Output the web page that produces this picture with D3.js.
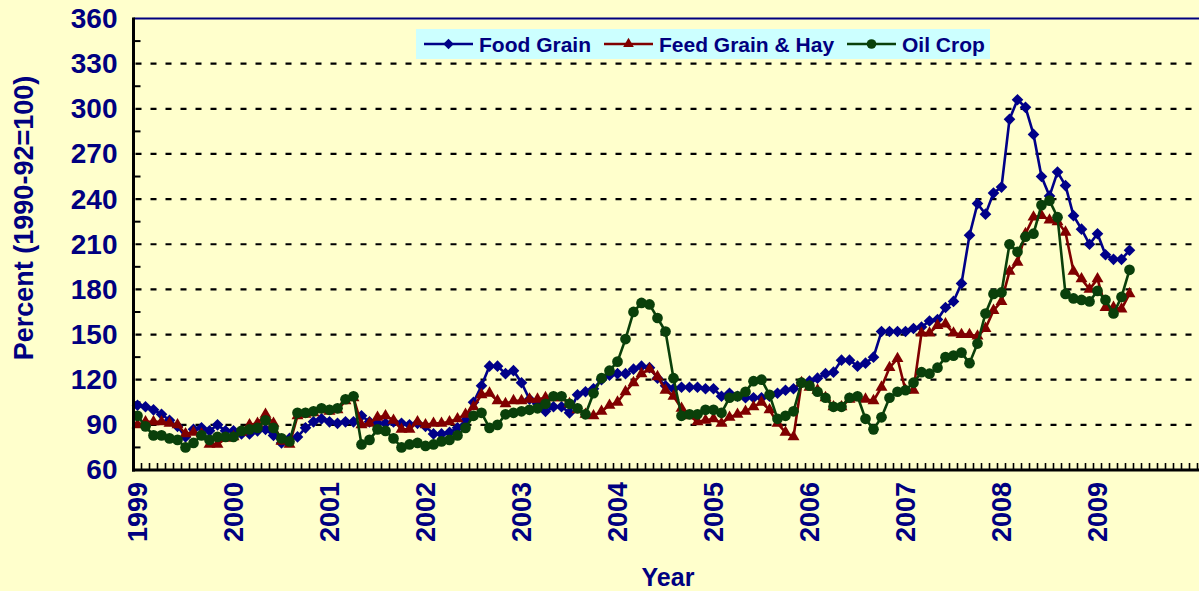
<!DOCTYPE html>
<html>
<head>
<meta charset="utf-8">
<script src="https://cdn.jsdelivr.net/npm/d3@7"></script>
<style>
  body { margin: 0; background: #FFFFCC; }
  svg { display: block; font-family: "Liberation Sans", Arial, sans-serif; font-weight: bold; }
</style>
</head>
<body>
<svg id="chart"></svg>
<script>
const years = ['1999', '2000', '2001', '2002', '2003', '2004', '2005', '2006', '2007', '2008', '2009'];
// the original axis runs on a little past Dec 2009, beyond the picture edge
const extraMonths = ['2010-1', '2010-2'];
const yTicks = [60, 90, 120, 150, 180, 210, 240, 270, 300, 330, 360];

// monthly index values, Jan 1999 - May 2009
const foodGrain = [
    103, 102, 100, 97, 93, 89, 82, 87, 88, 86, 90, 86,
    86, 84, 84, 86, 87, 83, 78, 81, 82, 88, 92, 94,
    92, 91, 92, 92, 96, 92, 91, 91, 92, 91, 90, 91,
    89, 84, 84, 85, 88, 93, 105, 116, 129, 129, 124, 126,
    118, 107, 104, 99, 102, 102, 98, 110, 112, 114, 120, 123,
    124, 124, 127, 129, 128, 121, 116, 114, 115, 115, 115, 114,
    114, 109, 111, 109, 108, 108, 108, 109, 111, 113, 114, 118,
    119, 121, 124, 125, 133, 133, 129, 131, 135, 152, 152, 152,
    152, 154, 155, 159, 160, 168, 172, 184, 216, 237, 230, 244,
    248, 293, 306, 301, 283, 255, 242, 258, 249, 229, 220, 210,
    217, 203, 200, 200, 206
];
const feedGrain = [
    90, 92, 92, 92, 91, 90, 84, 85, 84, 77, 77, 81,
    82, 85, 90, 91, 97, 91, 79, 77, 96, 97, 98, 100,
    99, 100, 106, 108, 90, 91, 95, 96, 93, 87, 87, 92,
    90, 91, 91, 92, 94, 97, 102, 110, 111, 106, 104, 106,
    106, 107, 107, 108, 108, 108, 104, 100, 97, 96, 99, 103,
    105, 112, 118, 124, 127, 122, 113, 109, 101, 96, 92, 93,
    94, 91, 95, 97, 99, 102, 105, 100, 91, 85, 82, 118,
    115, 113, 108, 102, 102, 107, 108, 107, 106, 115, 128, 134,
    113, 113, 151, 151, 156, 157, 151, 150, 150, 149, 154, 166,
    172, 192, 198, 217, 228, 229, 226, 225, 218, 192, 187, 180,
    187, 168, 168, 167, 177
];
const oilCrop = [
    96, 89, 83, 83, 81, 80, 75, 78, 83, 80, 82, 82,
    82, 86, 87, 88, 93, 88, 81, 79, 98, 98, 99, 101,
    100, 101, 107, 109, 77, 80, 87, 86, 81, 75, 77, 78,
    76, 77, 79, 80, 83, 88, 96, 98, 88, 90, 97, 98,
    99, 100, 101, 104, 109, 109, 104, 101, 97, 111, 121, 126,
    132, 147, 165, 171, 170, 161, 152, 121, 96, 97, 97, 100,
    100, 98, 108, 109, 112, 119, 120, 110, 94, 96, 99, 118,
    116, 112, 108, 102, 102, 108, 109, 94, 87, 95, 108, 112,
    113, 118, 125, 124, 128, 135, 136, 138, 131, 144, 164, 177,
    178, 210, 205, 215, 217, 236, 239, 228, 177, 174, 173, 172,
    179, 173, 164, 175, 193
];

const months = years.flatMap(yr => d3.range(12).map(m => `${yr}-${m + 1}`)).concat(extraMonths);

const W = 1199, H = 591;
const plotLeft = 133.5, plotTop = 18.5, plotBottom = 470;
const navy = '#000080';

const svg = d3.select('#chart').attr('width', W).attr('height', H);
svg.append('rect').attr('width', W).attr('height', H).attr('fill', '#FFFFCC');

const x = d3.scaleBand().domain(months).range([plotLeft, plotLeft + 8 * months.length]);
const cx = m => x(m) + x.bandwidth() / 2;
const y = d3.scaleLinear().domain([60, 360]).range([plotBottom, plotTop]);

// dashed grid
svg.append('g')
    .selectAll('line')
    .data(yTicks.filter(v => v > 60 && v < 360))
    .join('line')
    .attr('x1', plotLeft + 2).attr('x2', W)
    .attr('y1', d => y(d)).attr('y2', d => y(d))
    .attr('stroke', '#000').attr('stroke-width', 2.2)
    .attr('stroke-dasharray', '6,9');

// y labels
const yAxis = svg.append('g')
    .attr('transform', `translate(${plotLeft}, 0)`)
    .call(d3.axisLeft(y).tickValues(yTicks).tickSize(0).tickPadding(16));
yAxis.select('.domain').remove();
yAxis.selectAll('text')
    .attr('fill', navy).attr('font-size', 28).attr('font-weight', 'bold')
    .attr('font-family', '"Liberation Sans", Arial, sans-serif');

// minor y ticks, inside
svg.append('g')
    .selectAll('line')
    .data(yTicks.slice(0, -1).map(v => v + 15))
    .join('line')
    .attr('x1', plotLeft).attr('x2', plotLeft + 7)
    .attr('y1', d => y(d)).attr('y2', d => y(d))
    .attr('stroke', '#000').attr('stroke-width', 2);

// month ticks, inside
svg.append('g')
    .selectAll('line')
    .data(months.slice(1))
    .join('line')
    .attr('x1', d => x(d)).attr('x2', d => x(d))
    .attr('y1', plotBottom).attr('y2', plotBottom - 7)
    .attr('stroke', '#000').attr('stroke-width', 1.6);

// year labels
svg.append('g')
    .selectAll('text')
    .data(years)
    .join('text')
    .attr('transform', d => `translate(${cx(d + '-1')}, ${plotBottom + 12}) rotate(-90)`)
    .attr('text-anchor', 'end')
    .attr('dominant-baseline', 'central')
    .attr('fill', navy).attr('font-size', 27)
    .text(d => d);

// axis titles
svg.append('text')
    .attr('transform', `translate(24, 218) rotate(-90)`)
    .attr('text-anchor', 'middle').attr('dominant-baseline', 'central')
    .attr('fill', navy).attr('font-size', 27)
    .text('Percent (1990-92=100)');

svg.append('text')
    .attr('x', 668).attr('y', 586)
    .attr('text-anchor', 'middle')
    .attr('fill', navy).attr('font-size', 25)
    .text('Year');

// series
const series = [
    { name: 'Food Grain', values: foodGrain, color: '#000088', symbol: d3.symbolSquare, size: 68, rotate: 45 },
    { name: 'Feed Grain & Hay', values: feedGrain, color: '#800000', symbol: d3.symbolTriangle, size: 62, rotate: 0 },
    { name: 'Oil Crop', values: oilCrop, color: '#0A400A', symbol: d3.symbolCircle, size: 90, rotate: 0 }
];

const line = d3.line()
    .x((d, i) => cx(months[i]))
    .y(d => y(d));

series.forEach(s => {
    const g = svg.append('g');
    g.append('path')
        .datum(s.values)
        .attr('d', line)
        .attr('fill', 'none')
        .attr('stroke', s.color)
        .attr('stroke-width', 2.6);
    g.selectAll('path.pt')
        .data(s.values)
        .join('path')
        .attr('class', 'pt')
        .attr('transform', (d, i) => `translate(${cx(months[i])}, ${y(d)}) rotate(${s.rotate})`)
        .attr('d', d3.symbol().type(s.symbol).size(s.size))
        .attr('fill', s.color);
});

// frame
svg.append('line')
    .attr('x1', plotLeft).attr('x2', W).attr('y1', plotTop).attr('y2', plotTop)
    .attr('stroke', navy).attr('stroke-width', 2);
svg.append('line')
    .attr('x1', plotLeft).attr('x2', plotLeft).attr('y1', plotTop - 1).attr('y2', plotBottom + 1.5)
    .attr('stroke', '#000').attr('stroke-width', 3);
svg.append('line')
    .attr('x1', plotLeft - 1.5).attr('x2', W).attr('y1', plotBottom).attr('y2', plotBottom)
    .attr('stroke', '#000').attr('stroke-width', 3);

// legend
const legend = svg.append('g');
legend.append('rect')
    .attr('x', 416).attr('y', 29).attr('width', 574).attr('height', 30)
    .attr('fill', '#CCFFFF');
const legendX = [424, 604, 847];
series.forEach((s, i) => {
    const lx = legendX[i];
    legend.append('line')
        .attr('x1', lx).attr('x2', lx + 49).attr('y1', 44).attr('y2', 44)
        .attr('stroke', s.color).attr('stroke-width', 2.6);
    legend.append('path')
        .attr('transform', `translate(${lx + 24.5}, 44) rotate(${s.rotate})`)
        .attr('d', d3.symbol().type(s.symbol).size(s.size * 0.8))
        .attr('fill', s.color);
    legend.append('text')
        .attr('x', lx + 55).attr('y', 44)
        .attr('dominant-baseline', 'central')
        .attr('fill', navy).attr('font-size', 21)
        .text(s.name);
});
</script>
</body>
</html>
